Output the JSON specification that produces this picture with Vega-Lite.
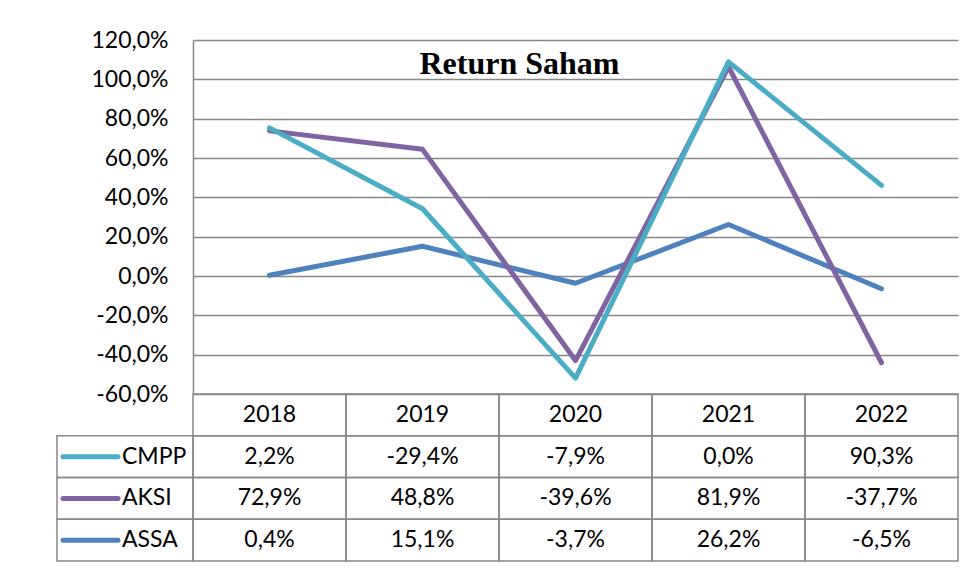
{
  "$schema": "https://vega.github.io/schema/vega-lite/v6.json",
  "padding": {"left": 53, "top": 29, "right": 5, "bottom": 5},
  "background": "white",
  "config": {
    "view": {"stroke": null},
    "locale": {"number": {"decimal": ",", "thousands": ".", "grouping": [3], "currency": ["", ""], "minus": "-"}},
    "font": "Lato"
  },
  "datasets": {
    "lines": [
      {"series": "ASSA", "year": "2018", "value": 0.004},
      {"series": "ASSA", "year": "2019", "value": 0.151},
      {"series": "ASSA", "year": "2020", "value": -0.037},
      {"series": "ASSA", "year": "2021", "value": 0.262},
      {"series": "ASSA", "year": "2022", "value": -0.065},
      {"series": "AKSI", "year": "2018", "value": 0.738},
      {"series": "AKSI", "year": "2019", "value": 0.644},
      {"series": "AKSI", "year": "2020", "value": -0.43},
      {"series": "AKSI", "year": "2021", "value": 1.064},
      {"series": "AKSI", "year": "2022", "value": -0.441},
      {"series": "CMPP", "year": "2018", "value": 0.753},
      {"series": "CMPP", "year": "2019", "value": 0.342},
      {"series": "CMPP", "year": "2020", "value": -0.519},
      {"series": "CMPP", "year": "2021", "value": 1.089},
      {"series": "CMPP", "year": "2022", "value": 0.461}
    ],
    "table": [
      {"series": "CMPP", "year": "2018", "value": 0.022},
      {"series": "CMPP", "year": "2019", "value": -0.294},
      {"series": "CMPP", "year": "2020", "value": -0.079},
      {"series": "CMPP", "year": "2021", "value": 0.0},
      {"series": "CMPP", "year": "2022", "value": 0.903},
      {"series": "AKSI", "year": "2018", "value": 0.729},
      {"series": "AKSI", "year": "2019", "value": 0.488},
      {"series": "AKSI", "year": "2020", "value": -0.396},
      {"series": "AKSI", "year": "2021", "value": 0.819},
      {"series": "AKSI", "year": "2022", "value": -0.377},
      {"series": "ASSA", "year": "2018", "value": 0.004},
      {"series": "ASSA", "year": "2019", "value": 0.151},
      {"series": "ASSA", "year": "2020", "value": -0.037},
      {"series": "ASSA", "year": "2021", "value": 0.262},
      {"series": "ASSA", "year": "2022", "value": -0.065}
    ]
  },
  "spacing": 0,
  "bounds": "flush",
  "vconcat": [
    {
      "width": 901,
      "height": 354,
      "data": {"name": "lines"},
      "title": {
        "text": "Return Saham",
        "font": "Liberation Serif",
        "fontSize": 32,
        "fontWeight": "bold",
        "color": "black",
        "anchor": "middle",
        "frame": "group",
        "baseline": "alphabetic",
        "dx": 12,
        "offset": -77
      },
      "mark": {"type": "line", "strokeWidth": 5, "strokeCap": "round", "strokeJoin": "round"},
      "encoding": {
        "x": {"field": "year", "type": "ordinal", "scale": {"type": "point", "padding": 0.5, "range": [136, 901]}, "axis": null},
        "y": {
          "field": "value",
          "type": "quantitative",
          "scale": {"domain": [-0.6, 1.2], "nice": false, "zero": false},
          "axis": {
            "values": [-0.6, -0.4, -0.2, 0, 0.2, 0.4, 0.6, 0.8, 1.0, 1.2],
            "format": ".1%",
            "offset": -136,
            "grid": true,
            "gridColor": "#888888",
            "gridWidth": 1.5,
            "domainColor": "#888888",
            "domainWidth": 1.5,
            "ticks": false,
            "tickSize": 0,
            "labelPadding": 25,
            "labelFont": "Lato",
            "labelFontSize": 23,
            "labelColor": "black",
            "title": null
          }
        },
        "color": {
          "field": "series",
          "type": "nominal",
          "scale": {"domain": ["CMPP", "AKSI", "ASSA"], "range": ["#4BACC6", "#8064A2", "#4F81BD"]},
          "legend": null
        }
      }
    },
    {
      "width": 901,
      "height": 167,
      "data": {"name": "table"},
      "resolve": {"scale": {"x": "independent"}},
      "layer": [
        {
          "transform": [{"filter": "datum.year == '2018'"}],
          "encoding": {
            "x": {"datum": "Label", "type": "nominal", "scale": {"type": "band", "domain": ["Label"], "range": [0, 136], "paddingInner": 0, "paddingOuter": 0}, "axis": null},
            "y": {"field": "series", "type": "nominal", "scale": {"type": "band", "domain": ["Tahun", "CMPP", "AKSI", "ASSA"], "paddingInner": 0, "paddingOuter": 0}, "axis": null}
          },
          "layer": [
            {"mark": {"type": "rect", "filled": false, "stroke": "#888888", "strokeWidth": 1.5}},
            {
              "mark": {"type": "point", "shape": "M-1,0L1,0", "size": 3025, "strokeWidth": 5, "strokeCap": "round", "filled": false, "opacity": 1, "xOffset": -34.5},
              "encoding": {"color": {"field": "series", "type": "nominal", "legend": null}}
            },
            {
              "mark": {"type": "text", "align": "left", "baseline": "middle", "dx": -3, "font": "Lato", "fontSize": 23, "color": "black"},
              "encoding": {"text": {"field": "series", "type": "nominal"}}
            }
          ]
        },
        {
          "encoding": {
            "x": {"field": "year", "type": "ordinal", "scale": {"type": "band", "range": [136, 901], "paddingInner": 0, "paddingOuter": 0}, "axis": null}
          },
          "layer": [
            {
              "mark": {"type": "rect", "filled": false, "stroke": "#888888", "strokeWidth": 1.5},
              "encoding": {
                "y": {"field": "series", "type": "nominal", "scale": {"type": "band", "domain": ["Tahun", "CMPP", "AKSI", "ASSA"], "paddingInner": 0, "paddingOuter": 0}, "axis": null}
              }
            },
            {
              "transform": [{"filter": "datum.series == 'CMPP'"}],
              "mark": {"type": "rect", "filled": false, "stroke": "#888888", "strokeWidth": 1.5},
              "encoding": {
                "y": {"datum": "Tahun", "type": "nominal", "scale": {"type": "band", "domain": ["Tahun", "CMPP", "AKSI", "ASSA"], "paddingInner": 0, "paddingOuter": 0}, "axis": null}
              }
            },
            {
              "mark": {"type": "text", "align": "center", "baseline": "middle", "font": "Lato", "fontSize": 23, "color": "black"},
              "encoding": {
                "y": {"field": "series", "type": "nominal", "scale": {"type": "band", "domain": ["Tahun", "CMPP", "AKSI", "ASSA"], "paddingInner": 0, "paddingOuter": 0}, "axis": null},
                "text": {"field": "value", "type": "quantitative", "format": ".1%"}
              }
            },
            {
              "transform": [{"filter": "datum.series == 'CMPP'"}],
              "mark": {"type": "text", "align": "center", "baseline": "middle", "font": "Lato", "fontSize": 23, "color": "black"},
              "encoding": {
                "y": {"datum": "Tahun", "type": "nominal", "scale": {"type": "band", "domain": ["Tahun", "CMPP", "AKSI", "ASSA"], "paddingInner": 0, "paddingOuter": 0}, "axis": null},
                "text": {"field": "year", "type": "nominal"}
              }
            }
          ]
        }
      ]
    }
  ]
}
